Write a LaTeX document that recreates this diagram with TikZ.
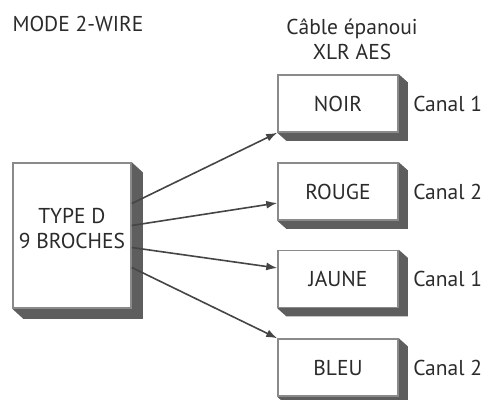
\documentclass[tikz,border=0pt]{standalone}
\usepackage{fontspec}
\setmainfont{PT Sans}
\usetikzlibrary{arrows.meta,backgrounds}
\definecolor{edgegray}{HTML}{8A8A8A}
\definecolor{shadowgray}{HTML}{5E5E5E}
\definecolor{inkgray}{HTML}{2B2B2B}
\definecolor{wiregray}{HTML}{454545}

\begin{document}
\begin{tikzpicture}[x=1pt,y=-1pt,
    font=\fontsize{21.5}{25}\selectfont, text=inkgray,
    box/.style={draw=edgegray,line width=1.5pt,fill=white,minimum width=120pt,minimum height=57pt,inner sep=0pt},
    wire/.style={draw=wiregray,line width=1.6pt,-{Latex[length=11pt,width=8pt]}}]
  \useasboundingbox (0,0) rectangle (486,399);
  \node[anchor=west] (mode) at (9,24) {MODE 2-WIRE};
  \node[align=center] (cable) at (352,39) {Câble épanoui\\XLR AES};
  % connecteur
  \node[box,minimum width=118pt,minimum height=145pt] (dsub) at (72,235.5) {};
  \node[align=center] (dsubtext) at (72,228.5) {TYPE D\\9 BROCHES};
  % conducteurs
  \node[box] (noir) at (338,103.5) {NOIR};
  \node[box] (rouge) at (338,191.5) {ROUGE};
  \node[box] (jaune) at (338,279) {JAUNE};
  \node[box] (bleu) at (338,367.5) {BLEU};
  \node[anchor=west] (canalA) at ([xshift=11pt]noir.east) {Canal 1};
  \node[anchor=west] (canalB) at ([xshift=11pt]rouge.east) {Canal 2};
  \node[anchor=west] (canalC) at ([xshift=11pt]jaune.east) {Canal 1};
  \node[anchor=west] (canalD) at ([xshift=11pt]bleu.east) {Canal 2};
  % ombres
  \begin{scope}[on background layer]
    \foreach \b/\dx/\dy in {dsub/11/10,noir/9/8,rouge/9/8,jaune/9/8,bleu/9/8}
      \fill[shadowgray] (\b.north east) -- ++(\dx,\dy) -- ([shift={(\dx pt,-\dy pt)}]\b.south east)
        -- ([shift={(\dx pt,-\dy pt)}]\b.south west) -- (\b.south west) -- cycle;
  \end{scope}
  % fils
  \draw[wire] ([yshift=32pt]dsub.east) -- (noir.south west);
  \draw[wire] ([yshift=10pt]dsub.east) -- ([yshift=-11.5pt]rouge.west);
  \draw[wire] ([yshift=-12pt]dsub.east) -- ([yshift=11pt]jaune.west);
  \draw[wire] ([yshift=-32pt]dsub.east) -- (bleu.north west);
\end{tikzpicture}
\end{document}
